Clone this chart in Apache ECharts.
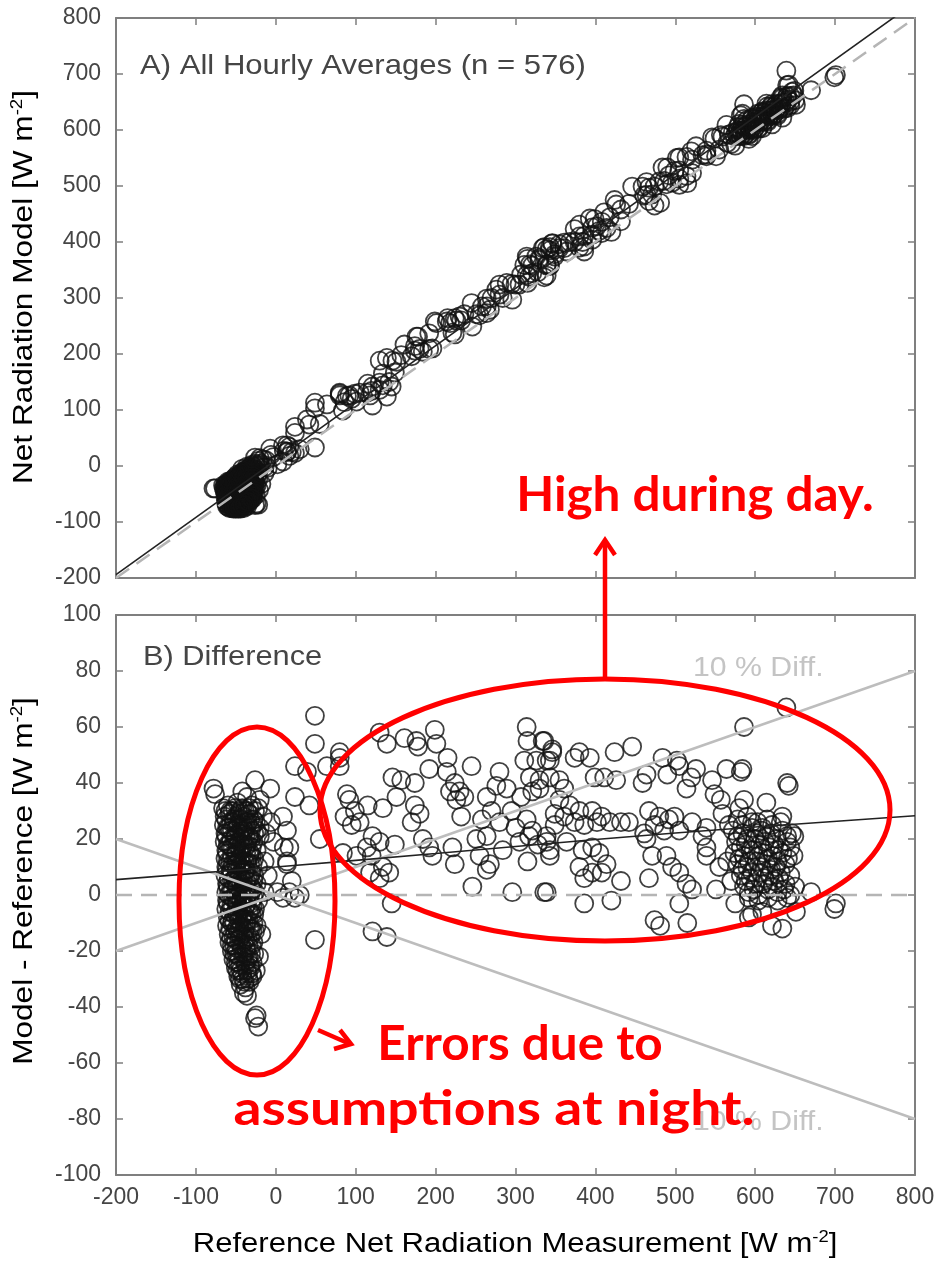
<!DOCTYPE html>
<html>
<head>
<meta charset="utf-8">
<script src="https://cdn.jsdelivr.net/npm/echarts/dist/echarts.min.js"></script>
<style>
html,body{margin:0;padding:0;background:#fff;}
#c{width:943px;height:1271px;}
</style>
</head>
<body>
<div id="c"></div>
<script>
// ---- data (reference measurement, model - reference) ----
const xTicks = [-200,-100,0,100,200,300,400,500,600,700,800];
const yTicksTop = [-200,-100,0,100,200,300,400,500,600,700,800];
const yTicksBottom = [-100,-80,-60,-40,-20,0,20,40,60,80,100];

const nightPoints = [
 [-66,31],[-60,32],[-54,30],[-48,33],[-42,31],[-36,30],[-30,32],[-22,31],
 [-64,28],[-58,29],[-52,27],[-46,29],[-40,28],[-34,29],[-28,27],[-16,28],
 [-65,25],[-59,24],[-53,26],[-47,25],[-41,24],[-35,26],[-29,25],[-20,24],[-6,26],
 [-63,22],[-57,23],[-51,21],[-45,22],[-39,23],[-33,21],[-27,22],[-12,22],
 [-64,19],[-58,18],[-52,20],[-46,19],[-40,18],[-34,20],[-28,19],[-3,19],
 [-62,16],[-56,17],[-50,15],[-44,16],[-38,17],[-32,15],[-24,16],[10,17],
 [-63,13],[-57,12],[-51,14],[-45,13],[-39,12],[-33,14],[-27,13],[-14,12],
 [-62,10],[-56,9],[-50,11],[-44,10],[-38,9],[-32,11],[-22,10],[14,11],
 [-63,7],[-57,8],[-51,6],[-45,7],[-39,8],[-33,6],[-27,7],[-10,7],
 [-61,4],[-55,5],[-49,3],[-43,4],[-37,5],[-31,3],[-24,4],[20,5],
 [-62,1],[-56,2],[-50,0],[-44,1],[-38,2],[-32,0],[-26,1],[-14,1],[2,1],[17,1],
 [-61,-2],[-55,-1],[-49,-3],[-43,-2],[-37,-1],[-31,-3],[-22,-2],[9,-1],
 [-62,-5],[-56,-4],[-50,-6],[-44,-5],[-38,-4],[-32,-6],[-26,-5],
 [-60,-8],[-54,-9],[-48,-7],[-42,-8],[-36,-9],[-30,-7],
 [-61,-11],[-55,-10],[-49,-12],[-43,-11],[-37,-10],[-31,-12],[-24,-11],
 [-59,-14],[-53,-15],[-47,-13],[-41,-14],[-35,-15],[-29,-13],[-18,-14],
 [-58,-17],[-52,-18],[-46,-16],[-40,-17],[-34,-18],[-28,-17],
 [-55,-20],[-49,-21],[-43,-19],[-37,-20],[-31,-21],[-21,-22],
 [-53,-23],[-47,-24],[-41,-22],[-35,-23],[-29,-24],
 [-50,-26],[-44,-27],[-38,-25],[-32,-26],[-25,-27],
 [-47,-29],[-41,-30],[-35,-28],[-29,-29],
 [-44,-32],[-38,-33],[-33,-31],
 [-40,-35],[-36,-36],
 [-24,-43],[-22,-47],[-26,-44],
 [-78,38],[-76,36],[-42,37],[-26,41],[-7,38],[-36,35],[-20,34],[9,28],[14,23],[17,17],[14,12],[24,-1],[30,0]
];

const nightPointsDense = [
 [-63,30],[-57,30],[-51,31],[-45,30],[-39,30],[-33,31],[-26,30],
 [-62,27],[-56,26],[-50,28],[-44,27],[-38,26],[-32,27],[-25,26],
 [-61,24],[-55,23],[-49,24],[-43,23],[-37,24],[-31,23],[-24,23],
 [-62,21],[-56,20],[-50,21],[-44,20],[-38,21],[-31,20],[-20,21],
 [-60,18],[-54,17],[-48,18],[-42,17],[-36,18],[-30,17],
 [-61,15],[-55,14],[-49,15],[-43,14],[-37,15],[-30,14],
 [-60,12],[-54,11],[-48,12],[-42,11],[-36,12],[-29,11],
 [-61,9],[-55,8],[-49,9],[-43,8],[-37,9],[-30,8],
 [-59,6],[-53,5],[-47,6],[-41,5],[-35,6],[-28,5],
 [-60,3],[-54,2],[-48,3],[-42,2],[-36,3],[-29,2],
 [-59,0],[-53,-1],[-47,0],[-41,-1],[-35,0],[-28,-1],
 [-60,-3],[-54,-4],[-48,-3],[-42,-4],[-36,-3],[-29,-4],
 [-58,-6],[-52,-7],[-46,-6],[-40,-7],[-34,-6],[-27,-7],
 [-58,-9],[-52,-10],[-46,-9],[-40,-10],[-34,-9],[-28,-10],
 [-57,-12],[-51,-13],[-45,-12],[-39,-13],[-33,-12],[-26,-13],
 [-56,-15],[-50,-16],[-44,-15],[-38,-16],[-32,-15],
 [-55,-18],[-49,-19],[-43,-18],[-37,-19],[-30,-18],
 [-52,-21],[-46,-22],[-40,-21],[-34,-22],[-27,-21],
 [-50,-24],[-44,-25],[-38,-24],[-32,-25],
 [-48,-27],[-42,-28],[-36,-27],[-30,-28],
 [-45,-30],[-39,-31],[-34,-30]
];

const dayPoints = [
 [49,64],[49,54],[24,46],[39,44],[64,46],[24,35],[42,32],[55,20],[49,-16],[80,49],
 [130,58],[139,54],[161,56],[176,55],[178,53],[199,59],[201,54],[215,49],[245,46],[192,45],
 [146,42],[157,41],[174,40],[214,44],[224,40],[230,37],[218,37],[226,34],[236,35],[280,44],
 [276,39],[289,38],[264,35],[314,60],[315,55],[334,55],[311,48],[326,48],[339,48],[346,52],
 [318,42],[330,41],[343,42],[321,37],[307,35],[80,46],[80,51],[89,36],[92,34],[99,30],
 [86,28],[105,26],[95,25],[115,32],[134,31],[151,35],[174,32],[180,29],[170,26],[184,20],
 [192,17],[121,21],[114,17],[130,19],[149,18],[84,15],[101,14],[120,14],[134,10],[118,8],
 [130,6],[142,8],[145,-3],[121,-13],[139,-15],[221,17],[224,11],[246,3],[251,20],[264,21],
 [255,14],[268,11],[264,9],[284,16],[296,1],[315,12],[336,1],[321,23],[314,27],[343,16],
 [339,21],[349,29],[232,28],[196,14],[270,30],[280,26],[295,30],[300,24],[258,27],[305,19],
 [328,18],[317,21],
 [586,60],[446,53],[424,51],[336,55],[346,51],[343,48],[380,51],[374,49],[393,49],[484,49],
 [502,48],[490,43],[526,45],[546,41],[564,45],[582,44],[514,38],[464,43],[459,40],[426,41],
 [411,42],[399,42],[355,41],[361,38],[330,38],[355,34],[368,32],[380,30],[361,28],[374,26],
 [386,25],[349,25],[396,30],[408,28],[402,26],[418,26],[432,26],[442,26],[467,30],[480,28],
 [492,27],[474,25],[486,23],[505,23],[461,22],[499,28],[521,26],[539,24],[559,29],[580,31],
 [339,19],[343,14],[364,19],[384,16],[396,17],[405,15],[414,11],[380,10],[386,6],[396,8],
 [408,8],[432,5],[386,-3],[420,-2],[339,1],[464,20],[471,14],[467,6],[489,14],[496,10],
 [505,8],[514,4],[521,2],[505,-3],[515,-10],[539,14],[555,10],[551,2],[539,17],[534,21],
 [592,-8],[474,-9],[481,-11],[549,36],[557,34],[586,34],[505,46],[520,42],
 [578,27],[590,28],[603,26],[615,27],
 [572,23],[584,22],[596,24],[608,23],[620,22],[634,23],
 [576,19],[588,18],[600,20],[612,19],[624,18],[640,19],
 [574,15],[586,14],[598,16],[610,15],[622,14],[634,15],[648,14],
 [578,11],[590,10],[602,12],[614,11],[626,10],[638,11],
 [582,7],[594,6],[606,8],[618,7],[630,6],[644,7],
 [586,3],[598,2],[610,4],[622,3],[636,2],[650,3],
 [592,-1],[604,-2],[616,-1],[628,-2],[640,-1],
 [596,-7],[609,-6],[621,-11],[634,-12],[651,-6],[670,1],[699,-5],[701,-3],[640,40],[642,39],
 [639,67],[584,45],[614,33],[634,28],[646,22],[649,21],[567,25],[565,12],[570,5],[575,-3]
];

const dayPointsDense = [
 [584,25],[596,26],[609,24],[621,25],[632,26],
 [578,21],[590,20],[602,22],[614,21],[627,20],[640,21],
 [582,17],[594,16],[606,18],[618,17],[630,16],[644,17],
 [580,13],[592,12],[604,14],[616,13],[628,12],[641,13],
 [584,9],[596,8],[608,10],[620,9],[632,8],
 [588,5],[600,4],[612,6],[624,5],[638,4],
 [592,1],[604,0],[616,2],[628,1],[644,0]
];

const oneToOne = [[-200,-200],[800,800]];
const fitTop = [[-200,-194],[800,828]];
const fitDiff = [[-200,5.5],[0,10],[200,14.8],[400,19.8],[600,24.3],[800,28.3]];
const zeroLine = [[-200,0],[800,0]];
const plus10 = [[-200,-20],[800,80]];
const minus10 = [[-200,20],[800,-80]];

const diffPoints = nightPoints.concat(nightPointsDense, dayPoints, dayPointsDense);
const modelPoints = diffPoints.map(p => [p[0], p[0] + p[1]]);

// ---- chart ----
const FONT = 'Liberation Sans';
const AX = '#7f7f7f';
const LBL = '#454545';
const chart = echarts.init(document.getElementById('c'), null, {renderer:'canvas'});

function mkAxis(kind, grid, pos, min, max, interval, showLabel){
  return {
    type:'value', gridIndex:grid, position:pos, min:min, max:max, interval:interval,
    axisLine:{show:true, onZero:false, lineStyle:{color:AX, width:2}},
    axisTick:{show:true, inside:true, length:7, lineStyle:{color:AX, width:1.5}},
    axisLabel:{show:showLabel, color:LBL, fontFamily:FONT, fontSize:23, margin: kind==='x'?11:15},
    splitLine:{show:false}
  };
}

const scatterStyle = {color:'rgba(0,0,0,0)', borderColor:'#111', borderWidth:1.8};
const rich = {
  n:{fontFamily:FONT, fontSize:27, color:LBL, lineHeight:30},
  s:{fontFamily:FONT, fontSize:16, color:LBL, verticalAlign:'top', lineHeight:30}
};

chart.setOption({
  animation:false,
  backgroundColor:'#fff',
  grid:[
    {left:116, top:18, width:799, height:560},
    {left:116, top:615, width:799, height:560}
  ],
  xAxis:[
    mkAxis('x',0,'bottom',-200,800,100,false),
    mkAxis('x',0,'top',-200,800,100,false),
    mkAxis('x',1,'bottom',-200,800,100,true),
    mkAxis('x',1,'top',-200,800,100,false)
  ],
  yAxis:[
    mkAxis('y',0,'left',-200,800,100,true),
    mkAxis('y',0,'right',-200,800,100,false),
    mkAxis('y',1,'left',-100,100,20,true),
    mkAxis('y',1,'right',-100,100,20,false)
  ],
  series:[
    {type:'scatter', xAxisIndex:0, yAxisIndex:0, data:modelPoints, symbol:'circle', symbolSize:18, itemStyle:scatterStyle, z:2},
    {type:'line', xAxisIndex:0, yAxisIndex:0, data:oneToOne, symbol:'none', clip:true, lineStyle:{color:'#b5b5b5', width:2.5, type:[16,9]}, z:3},
    {type:'line', xAxisIndex:0, yAxisIndex:0, data:fitTop, symbol:'none', clip:true, lineStyle:{color:'#222', width:1.6}, z:4},
    {type:'scatter', xAxisIndex:2, yAxisIndex:2, data:diffPoints, symbol:'circle', symbolSize:18, itemStyle:scatterStyle, z:2},
    {type:'line', xAxisIndex:2, yAxisIndex:2, data:zeroLine, symbol:'none', clip:true, lineStyle:{color:'#b5b5b5', width:2.5, type:[16,9]}, z:3},
    {type:'line', xAxisIndex:2, yAxisIndex:2, data:plus10, symbol:'none', clip:true, lineStyle:{color:'#bdbdbd', width:2.5}, z:3},
    {type:'line', xAxisIndex:2, yAxisIndex:2, data:minus10, symbol:'none', clip:true, lineStyle:{color:'#bdbdbd', width:2.5}, z:3},
    {type:'line', xAxisIndex:2, yAxisIndex:2, data:fitDiff, symbol:'none', clip:true, smooth:true, lineStyle:{color:'#222', width:1.6}, z:4}
  ],
  graphic:[
    {type:'text', x:25, y:287, rotation:Math.PI/2, scaleX:1.17, z:10, style:{text:'{n|Net Radiation Model [W m}{s|-2}{n|]}', rich:rich, align:'center', verticalAlign:'middle'}},
    {type:'text', x:25, y:881, rotation:Math.PI/2, scaleX:1.17, z:10, style:{text:'{n|Model - Reference [W m}{s|-2}{n|]}', rich:rich, align:'center', verticalAlign:'middle'}},
    {type:'text', x:515, y:1245, scaleX:1.15, z:10, style:{text:'{n|Reference Net Radiation Measurement [W m}{s|-2}{n|]}', rich:rich, align:'center', verticalAlign:'middle'}},
    {type:'text', x:140, y:66, scaleX:1.11, z:10, style:{text:'A) All Hourly Averages (n = 576)', fill:LBL, fontFamily:FONT, fontSize:28, align:'left', verticalAlign:'middle'}},
    {type:'text', x:143, y:657, scaleX:1.10, z:10, style:{text:'B) Difference', fill:LBL, fontFamily:FONT, fontSize:28, align:'left', verticalAlign:'middle'}},
    {type:'text', x:693, y:668, scaleX:1.08, z:10, style:{text:'10 % Diff.', fill:'#c4c4c4', fontFamily:FONT, fontSize:28, align:'left', verticalAlign:'middle'}},
    {type:'text', x:693, y:1122, scaleX:1.08, z:10, style:{text:'10 % Diff.', fill:'#c4c4c4', fontFamily:FONT, fontSize:28, align:'left', verticalAlign:'middle'}},
    {type:'ellipse', z:20, shape:{cx:257, cy:901, rx:78, ry:174}, style:{fill:null, stroke:'#ff0000', lineWidth:5}},
    {type:'ellipse', z:20, shape:{cx:605, cy:810, rx:285, ry:131}, style:{fill:null, stroke:'#ff0000', lineWidth:5}},
    {type:'polyline', z:20, shape:{points:[[605,679],[605,541]]}, style:{stroke:'#ff0000', lineWidth:4.5, fill:null}},
    {type:'polyline', z:20, shape:{points:[[595,555],[605,540],[615,555]]}, style:{stroke:'#ff0000', lineWidth:4.5, fill:null}},
    {type:'polyline', z:20, shape:{points:[[318,1030],[350,1044]]}, style:{stroke:'#ff0000', lineWidth:4.5, fill:null}},
    {type:'polyline', z:20, shape:{points:[[340,1030],[351,1044],[334,1049]]}, style:{stroke:'#ff0000', lineWidth:4.5, fill:null}},
    {type:'text', x:695, y:496, scaleX:1.03, z:21, style:{text:'High during day.', fill:'#ff0000', fontFamily:'Lato', fontWeight:'bold', fontSize:48, align:'center', verticalAlign:'middle'}},
    {type:'text', x:520, y:1045, scaleX:1.03, z:21, style:{text:'Errors due to', fill:'#ff0000', fontFamily:'Lato', fontWeight:'bold', fontSize:48, align:'center', verticalAlign:'middle'}},
    {type:'text', x:494, y:1110, scaleX:1.15, z:21, style:{text:'assumptions at night.', fill:'#ff0000', fontFamily:'Lato', fontWeight:'bold', fontSize:48, align:'center', verticalAlign:'middle'}}
  ]
});
</script>
</body>
</html>
